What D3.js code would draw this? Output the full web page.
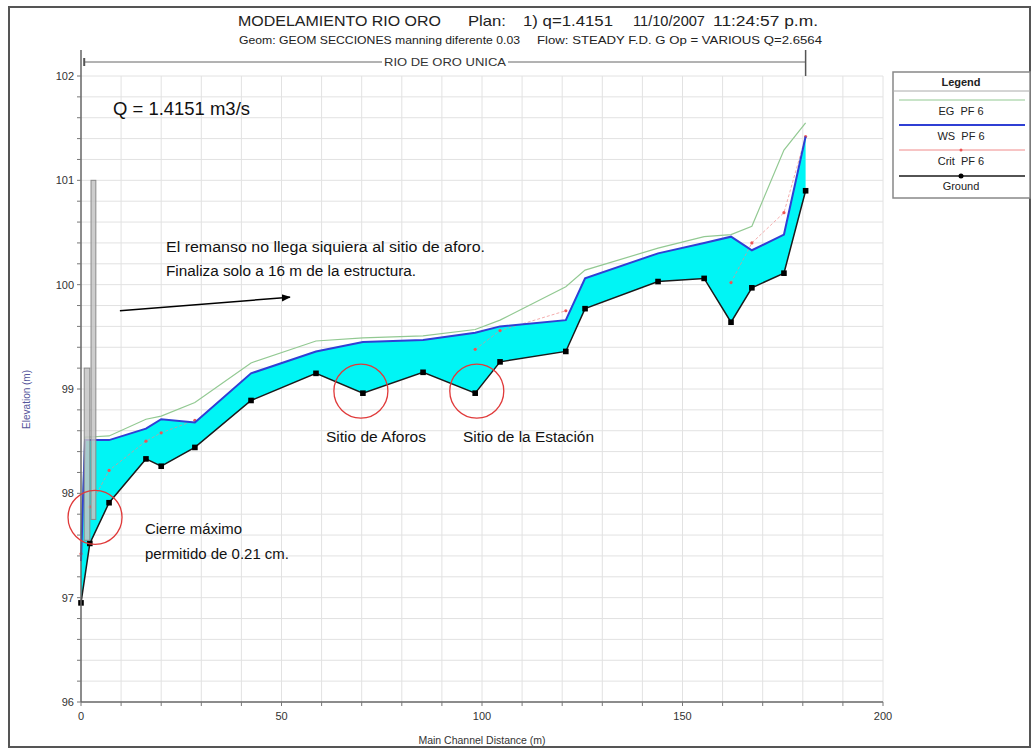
<!DOCTYPE html>
<html>
<head>
<meta charset="utf-8">
<script src="https://cdn.jsdelivr.net/npm/d3@7"></script>
<style>
  html, body { margin: 0; padding: 0; background: #fff; }
  svg { display: block; font-family: "Liberation Sans", Arial, sans-serif; }
</style>
</head>
<body>
<svg id="chart" width="1036" height="751"></svg>
<script>
// River stations (m) and profile elevations (m); null = not computed at that station
const stations    = [0, 1, 2.2, 7, 16.2, 20, 28.4, 42.4, 58.6, 70.3, 85.3, 98.3, 104.5, 120.9, 125.7, 143.9, 155.4, 162.1, 167.3, 175.3, 180.7];
const groundElev  = [96.95, null, 97.52, 97.91, 98.33, 98.26, 98.44, 98.89, 99.15, 98.96, 99.16, 98.96, 99.26, 99.36, 99.77, 100.03, 100.06, 99.64, 99.97, 100.11, 100.90];
const wsElev      = [97.35, 98.51, 98.51, 98.51, 98.62, 98.71, 98.68, 99.15, 99.36, 99.45, 99.47, 99.54, 99.60, 99.66, 100.06, 100.30, 100.40, 100.46, 100.33, 100.48, 101.42];
const egElev      = [97.60, 98.54, 98.54, 98.55, 98.71, 98.74, 98.87, 99.25, 99.46, 99.49, 99.51, 99.57, 99.66, 99.98, 100.14, 100.35, 100.46, 100.48, 100.56, 101.29, 101.55];
const critElev    = [97.42, null, 97.87, 98.22, 98.50, 98.58, 98.70, null, null, null, null, 99.38, 99.56, 99.75, null, null, null, 100.02, 100.40, 100.69, 101.42];

// Inline structure (weir / gate walls)
const structLeft   = [0.8, 2.5];
const structRight  = [2.2, 3.7];
const structTop    = [99.2, 101.0];
const structBottom = [97.55, 97.75];

// Axis ticks
const xTicks = [0, 50, 100, 150, 200];
const yTicks = [96, 97, 98, 99, 100, 101, 102];
const reachStart = 0.8, reachEnd = 180.7;

const svg = d3.select("#chart");
const x = d3.scaleLinear().domain([0, 200]).range([81, 883]);
const y = d3.scaleLinear().domain([96, 102]).range([702, 76]);

// outer frame
svg.append("rect").attr("x", 9).attr("y", 7).attr("width", 1021).attr("height", 740)
  .attr("fill", "#fff").attr("stroke", "#555").attr("stroke-width", 2);

// grid
const grid = svg.append("g");
grid.selectAll("line.v").data(d3.range(10, 201, 10)).join("line")
  .attr("x1", d => x(d)).attr("x2", d => x(d)).attr("y1", y(96)).attr("y2", y(102))
  .attr("stroke", "#e2e2e2").attr("stroke-width", 1);
grid.selectAll("line.h").data(d3.range(1, 31).map(i => 96 + i * 0.2)).join("line")
  .attr("x1", x(0)).attr("x2", x(200)).attr("y1", d => y(d)).attr("y2", d => y(d))
  .attr("stroke", "#e2e2e2").attr("stroke-width", 1);

// water body between ground and water surface
const wsPts = stations.map((s, i) => [s, wsElev[i]]).filter(d => d[1] != null);
const grPts = stations.map((s, i) => [s, groundElev[i]]).filter(d => d[1] != null);
const poly = wsPts.concat(grPts.slice().reverse());
svg.append("path")
  .attr("d", d3.line().x(d => x(d[0])).y(d => y(d[1]))(poly) + "Z")
  .attr("fill", "#00f5f5").attr("stroke", "none");

// critical depth line (segments only where computed)
const lineGen = d3.line().defined(d => d[1] != null).x(d => x(d[0])).y(d => y(d[1]));
const critPts = stations.map((s, i) => [s, critElev[i]]);
svg.append("path").attr("d", lineGen(critPts))
  .attr("fill", "none").attr("stroke", "#f08a8a").attr("stroke-width", 1)
  .attr("stroke-dasharray", "3,2").attr("opacity", 0.7);
svg.selectAll("circle.crit").data(critPts.filter(d => d[1] != null)).join("circle")
  .attr("cx", d => x(d[0])).attr("cy", d => y(d[1])).attr("r", 1.6)
  .attr("fill", "#e55");

// energy grade line
svg.append("path").attr("d", lineGen(stations.map((s, i) => [s, egElev[i]])))
  .attr("fill", "none").attr("stroke", "#92c992").attr("stroke-width", 1.2);

// water surface
svg.append("path").attr("d", lineGen(wsPts))
  .attr("fill", "none").attr("stroke", "#2f3fd4").attr("stroke-width", 2);

// ground
svg.append("path").attr("d", lineGen(grPts))
  .attr("fill", "none").attr("stroke", "#1a1a1a").attr("stroke-width", 1.5);
svg.selectAll("rect.gnd").data(grPts).join("rect")
  .attr("x", d => x(d[0]) - 2.8).attr("y", d => y(d[1]) - 2.8)
  .attr("width", 5.6).attr("height", 5.6).attr("fill", "#000");

// structure walls
structLeft.forEach((l, i) => {
  svg.append("rect")
    .attr("x", x(l)).attr("y", y(structTop[i]))
    .attr("width", x(structRight[i]) - x(l)).attr("height", y(structBottom[i]) - y(structTop[i]))
    .attr("fill", "#c4c4c4").attr("fill-opacity", 0.85)
    .attr("stroke", "#8a8a8a").attr("stroke-width", 1);
});

// axes
const yAxisG = svg.append("g").attr("transform", `translate(${x(0)},0)`);
yAxisG.append("line").attr("x1", 0).attr("x2", 0).attr("y1", y(96)).attr("y2", 50)
  .attr("stroke", "#666").attr("stroke-width", 1.5);
yAxisG.selectAll("line.minor").data(d3.range(0, 31).map(i => 96 + i * 0.2)).join("line")
  .attr("x1", -4).attr("x2", 0).attr("y1", d => y(d)).attr("y2", d => y(d))
  .attr("stroke", "#777");
yAxisG.selectAll("text").data(yTicks).join("text")
  .attr("x", -7).attr("y", d => y(d) + 4).attr("text-anchor", "end")
  .attr("font-size", 11).attr("fill", "#333").text(d => d);

const xAxisG = svg.append("g").attr("transform", `translate(0,${y(96)})`);
xAxisG.append("line").attr("x1", x(0)).attr("x2", x(200)).attr("y1", 0).attr("y2", 0)
  .attr("stroke", "#666").attr("stroke-width", 1.5);
xAxisG.selectAll("line.minor").data(d3.range(0, 201, 10)).join("line")
  .attr("x1", d => x(d)).attr("x2", d => x(d)).attr("y1", 0).attr("y2", 4)
  .attr("stroke", "#777");
xAxisG.selectAll("text").data(xTicks).join("text")
  .attr("x", d => x(d)).attr("y", 18).attr("text-anchor", "middle")
  .attr("font-size", 11).attr("fill", "#333").text(d => d);

svg.append("text").attr("x", x(100)).attr("y", 744).attr("text-anchor", "middle")
  .attr("font-size", 10.5).attr("fill", "#333").text("Main Channel Distance (m)");
svg.append("text").attr("transform", `translate(30,${y(98.9)}) rotate(-90)`)
  .attr("text-anchor", "middle").attr("font-size", 10).attr("fill", "#55559a")
  .text("Elevation (m)");

// reach bar
const reachY = 62;
svg.append("line").attr("x1", x(reachStart)).attr("x2", x(reachEnd)).attr("y1", reachY).attr("y2", reachY)
  .attr("stroke", "#666").attr("stroke-width", 1);
svg.append("line").attr("x1", x(reachStart)).attr("x2", x(reachStart)).attr("y1", reachY - 4).attr("y2", reachY + 4)
  .attr("stroke", "#555").attr("stroke-width", 2);
svg.append("line").attr("x1", x(reachEnd)).attr("x2", x(reachEnd)).attr("y1", 50).attr("y2", y(102))
  .attr("stroke", "#555").attr("stroke-width", 1.5);
svg.append("rect").attr("x", 382).attr("y", 55).attr("width", 126).attr("height", 14).attr("fill", "#fff");
svg.append("text").attr("x", 445).attr("y", 66).attr("text-anchor", "middle")
  .attr("font-size", 11).attr("fill", "#333").attr("textLength", 122).attr("lengthAdjust", "spacingAndGlyphs")
  .text("RIO DE ORO UNICA");

// title
const t1 = [["MODELAMIENTO RIO ORO", 238, 203], ["Plan:", 468, 38], ["1) q=1.4151", 523, 90],
            ["11/10/2007", 633, 72], ["11:24:57 p.m.", 713, 105]];
t1.forEach(([s, px, w]) => svg.append("text").attr("x", px).attr("y", 26)
  .attr("font-size", 14.5).attr("fill", "#222").attr("textLength", w).attr("lengthAdjust", "spacingAndGlyphs").text(s));
const t2 = [["Geom: GEOM SECCIONES manning diferente 0.03", 239, 281], ["Flow: STEADY F.D. G Op = VARIOUS Q=2.6564", 537, 285]];
t2.forEach(([s, px, w]) => svg.append("text").attr("x", px).attr("y", 44)
  .attr("font-size", 11).attr("fill", "#222").attr("textLength", w).attr("lengthAdjust", "spacingAndGlyphs").text(s));

// legend
const lg = svg.append("g");
lg.append("rect").attr("x", 893).attr("y", 72).attr("width", 137).attr("height", 126)
  .attr("fill", "#fff").attr("stroke", "#888").attr("stroke-width", 1.5);
lg.append("line").attr("x1", 893).attr("x2", 1030).attr("y1", 91).attr("y2", 91).attr("stroke", "#aaa");
lg.append("text").attr("x", 961).attr("y", 86).attr("text-anchor", "middle")
  .attr("font-size", 11).attr("font-weight", "bold").attr("fill", "#222").text("Legend");
const legendItems = [
  { label: "EG  PF 6", color: "#92c992", w: 1, ly: 100, ty: 115 },
  { label: "WS  PF 6", color: "#2f3fd4", w: 1.8, ly: 125, ty: 140 },
  { label: "Crit  PF 6", color: "#f08a8a", w: 1, ly: 150, ty: 165, dot: "#e55" },
  { label: "Ground", color: "#1a1a1a", w: 1.5, ly: 176, ty: 190, dot: "#000" }
];
legendItems.forEach(d => {
  lg.append("line").attr("x1", 899).attr("x2", 1025).attr("y1", d.ly).attr("y2", d.ly)
    .attr("stroke", d.color).attr("stroke-width", d.w);
  if (d.dot) lg.append("circle").attr("cx", 961).attr("cy", d.ly).attr("r", d.dot === "#000" ? 2.5 : 1.5).attr("fill", d.dot);
  lg.append("text").attr("x", 961).attr("y", d.ty).attr("text-anchor", "middle")
    .attr("font-size", 11).attr("fill", "#222").style("white-space", "pre").text(d.label);
});

// annotations
const ann = svg.append("g").attr("fill", "#111");
ann.append("text").attr("x", 113).attr("y", 115).attr("font-size", 18).attr("textLength", 137)
  .attr("lengthAdjust", "spacingAndGlyphs").text("Q = 1.4151 m3/s");
ann.append("text").attr("x", 166).attr("y", 252).attr("font-size", 14).attr("textLength", 319)
  .attr("lengthAdjust", "spacingAndGlyphs").text("El remanso no llega siquiera al sitio de aforo.");
ann.append("text").attr("x", 166).attr("y", 276).attr("font-size", 14).attr("textLength", 250)
  .attr("lengthAdjust", "spacingAndGlyphs").text("Finaliza solo a 16 m de la estructura.");
ann.append("text").attr("x", 326).attr("y", 442).attr("font-size", 14).attr("textLength", 100)
  .attr("lengthAdjust", "spacingAndGlyphs").text("Sitio de Aforos");
ann.append("text").attr("x", 463).attr("y", 442).attr("font-size", 14).attr("textLength", 131)
  .attr("lengthAdjust", "spacingAndGlyphs").text("Sitio de la Estación");
ann.append("text").attr("x", 145).attr("y", 534).attr("font-size", 14).attr("textLength", 97)
  .attr("lengthAdjust", "spacingAndGlyphs").text("Cierre máximo");
ann.append("text").attr("x", 145).attr("y", 559).attr("font-size", 14).attr("textLength", 144)
  .attr("lengthAdjust", "spacingAndGlyphs").text("permitido de 0.21 cm.");

// pointer arrow
const arrowFrom = [9.7, 99.75], arrowTo = [52.1, 99.88];
svg.append("defs").append("marker").attr("id", "ah").attr("viewBox", "0 0 10 10")
  .attr("refX", 9).attr("refY", 5).attr("markerWidth", 9).attr("markerHeight", 9)
  .attr("markerUnits", "userSpaceOnUse").attr("orient", "auto")
  .append("path").attr("d", "M0,1 L10,5 L0,9 Z").attr("fill", "#000");
svg.append("line").attr("x1", x(arrowFrom[0])).attr("y1", y(arrowFrom[1]))
  .attr("x2", x(arrowTo[0])).attr("y2", y(arrowTo[1]))
  .attr("stroke", "#000").attr("stroke-width", 1.5).attr("marker-end", "url(#ah)");

// highlight circles
const circleX = [3.5, 69.8, 98.7];
const circleY = [97.77, 98.98, 98.98];
svg.selectAll("circle.hl").data(circleX).join("circle")
  .attr("cx", d => x(d)).attr("cy", (d, i) => y(circleY[i])).attr("r", 27)
  .attr("fill", "none").attr("stroke", "#e03a3a").attr("stroke-width", 1.3);
</script>
</body>
</html>
